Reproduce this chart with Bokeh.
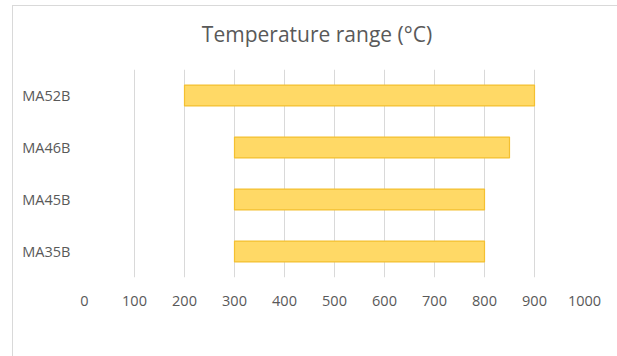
from bokeh.plotting import figure
from bokeh.models import FactorRange, Range1d, ColumnDataSource, FixedTicker, Div
from bokeh.layouts import column
from bokeh.embed import file_html
from bokeh.resources import INLINE

# Temperature operating range of each grade
grades = ["MA52B", "MA46B", "MA45B", "MA35B"]
temp_min = [200, 300, 300, 300]
temp_max = [900, 850, 800, 800]
x_ticks = [0, 100, 200, 300, 400, 500, 600, 700, 800, 900, 1000]
chart_title = "Temperature range (°C)"

source = ColumnDataSource(data=dict(grade=grades, lo=temp_min, hi=temp_max))

FONT = "Open Sans"
GREY = "#595959"
W = 604
TITLE_H = 50

# title strip above the plot
title_div = Div(
    text=(f'<div style="width:{W}px;height:{TITLE_H}px;line-height:56px;'
          f'text-align:center;padding-left:4px;box-sizing:border-box;'
          f'font-family:\'{FONT}\';font-size:21px;color:{GREY};">{chart_title}</div>'),
    width=W, height=TITLE_H, margin=0,
)

p = figure(
    width=W, height=351 - TITLE_H,
    y_range=FactorRange(factors=list(reversed(grades))),
    x_range=Range1d(0, 1000),
    output_backend="svg", toolbar_location=None,
    min_border_left=71, min_border_right=33,
    min_border_top=13, min_border_bottom=80,
    margin=0,
)

p.hbar(y="grade", left="lo", right="hi", height=0.4, source=source,
       fill_color="#FFD966", line_color="#F4C030", line_width=1.2)

p.outline_line_color = None
p.ygrid.grid_line_color = None
p.xgrid.grid_line_color = "#D9D9D9"
p.xgrid.ticker = FixedTicker(ticks=x_ticks)
p.xaxis.ticker = FixedTicker(ticks=x_ticks)

for ax in (p.xaxis, p.yaxis):
    ax.axis_line_color = None
    ax.major_tick_line_color = None
    ax.minor_tick_line_color = None
    ax.major_label_text_font = FONT
    ax.major_label_text_font_size = "14.5px"
    ax.major_label_text_color = GREY
p.yaxis.major_label_standoff = 8
p.xaxis.major_label_standoff = 12

# chart area with a light border on its visible left and top edges
chart = column(title_div, p, spacing=0)
chart.margin = (5, 0, 0, 12)
chart.styles = {"border-left": "1px solid #d9d9d9", "border-top": "1px solid #d9d9d9"}

open("out.html", "w").write(file_html(chart, INLINE))
